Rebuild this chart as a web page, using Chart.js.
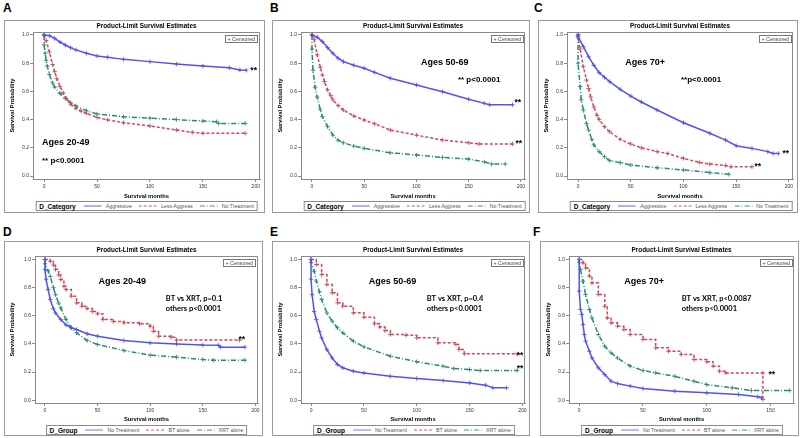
<!DOCTYPE html>
<html><head><meta charset="utf-8">
<script src="https://cdn.jsdelivr.net/npm/chart.js@4.4.0/dist/chart.umd.min.js"></script>
<style>
html,body{margin:0;padding:0;background:#fff;}
body{width:800px;height:438px;overflow:hidden;position:relative;font-family:"Liberation Sans",Arial,sans-serif;}
.letter{position:absolute;font:bold 12px/12px "Liberation Sans",Arial,sans-serif;color:#000;}
.box{position:absolute;border:1px solid #9a9a9a;box-sizing:border-box;}
canvas{position:absolute;}
.legend{position:absolute;border:1px solid #8a8a8a;box-sizing:border-box;height:10px;display:flex;align-items:center;white-space:nowrap;font-size:5.3px;color:#555;padding:0 3px 0 3px;transform:translateX(-50%);background:#fff;}
.legend b{color:#000;font-size:6.5px;margin-right:8px;font-weight:bold;}
.legend svg{margin-right:4px;opacity:0.6;flex:none;}
.legend span{margin-right:7px;}
.legend span:last-child{margin-right:0;}
</style></head><body>
<script>
// ---------- data: [survival months, survival probability] ----------
const xTicks200 = [0, 50, 100, 150, 200];
const xTicks150 = [0, 50, 100, 150];
const yTicks = [0, 0.2, 0.4, 0.6, 0.8, 1.0];
const categoryNames = ['Aggressive', 'Less Aggress', 'No Treatment'];
const groupNames = ['No Treatment', 'BT alone', 'XRT alone'];

const aAggressive = [[0,1],[5,0.995],[10,0.976],[15,0.95],[20,0.929],[25,0.91],[30,0.894],[40,0.87],[50,0.851],[60,0.842],[75,0.827],[100,0.811],[125,0.794],[150,0.78],[175,0.768],[185,0.752],[191,0.75]];
const aLessAggress = [[0,1],[2,0.96],[5,0.88],[8,0.79],[10,0.74],[12,0.69],[15,0.634],[18,0.59],[21,0.55],[25,0.51],[30,0.48],[35,0.46],[40,0.444],[50,0.416],[60,0.398],[75,0.378],[100,0.355],[125,0.326],[140,0.31],[150,0.303],[190,0.303]];
const aNoTreatment = [[0,1],[0,0.93],[1,0.87],[2,0.82],[3,0.78],[5,0.72],[8,0.66],[10,0.63],[15,0.586],[20,0.55],[25,0.52],[30,0.497],[40,0.463],[50,0.44],[75,0.42],[100,0.41],[125,0.4],[150,0.39],[163,0.385],[165,0.373],[190,0.373]];

const bAggressive = [[0,1],[5,0.985],[10,0.953],[15,0.91],[20,0.87],[25,0.835],[30,0.811],[40,0.785],[50,0.764],[60,0.735],[75,0.693],[100,0.645],[125,0.598],[150,0.544],[165,0.515],[170,0.505],[192,0.505]];
const bLessAggress = [[0,1],[2,0.97],[5,0.86],[8,0.77],[10,0.716],[12,0.67],[15,0.61],[18,0.57],[20,0.54],[25,0.5],[30,0.468],[40,0.426],[50,0.397],[60,0.37],[75,0.326],[100,0.29],[125,0.255],[150,0.236],[160,0.227],[192,0.227]];
const bNoTreatment = [[0,1],[0,0.9],[1,0.75],[3,0.63],[5,0.56],[8,0.47],[10,0.42],[15,0.35],[20,0.29],[25,0.255],[30,0.236],[40,0.213],[50,0.196],[75,0.165],[100,0.149],[125,0.132],[150,0.12],[165,0.1],[172,0.085],[185,0.085]];

const cAggressive = [[0,1],[0,0.99],[5,0.917],[10,0.846],[15,0.785],[20,0.733],[25,0.7],[30,0.669],[40,0.615],[50,0.567],[60,0.525],[75,0.468],[100,0.378],[125,0.303],[140,0.255],[150,0.215],[165,0.196],[180,0.173],[185,0.16],[190,0.16]];
const cLessAggress = [[0,1],[0,0.98],[2,0.9],[5,0.775],[8,0.68],[10,0.62],[12,0.56],[15,0.49],[18,0.43],[20,0.4],[25,0.35],[30,0.314],[40,0.26],[50,0.227],[60,0.2],[75,0.173],[85,0.16],[100,0.125],[115,0.097],[125,0.085],[140,0.075],[145,0.066],[165,0.066]];
const cNoTreatment = [[0,1],[0,0.8],[2,0.634],[3,0.54],[5,0.468],[8,0.373],[10,0.326],[13,0.26],[15,0.22],[20,0.173],[25,0.137],[30,0.109],[40,0.095],[50,0.078],[75,0.059],[100,0.043],[125,0.024],[143,0.012]];

const dNoTreatment = [[0,1],[0,0.93],[1,0.86],[3,0.787],[5,0.716],[8,0.65],[10,0.62],[15,0.573],[20,0.535],[25,0.515],[30,0.502],[40,0.472],[50,0.455],[75,0.424],[100,0.408],[125,0.4],[150,0.392],[165,0.39],[167,0.377],[190,0.377]];
const dBTalone = [[0,1],[5,0.988],[8,0.96],[10,0.93],[13,0.89],[15,0.858],[18,0.81],[20,0.787],[25,0.739],[30,0.692],[35,0.668],[40,0.652],[45,0.63],[50,0.614],[55,0.573],[65,0.56],[75,0.55],[90,0.543],[100,0.526],[103,0.49],[108,0.455],[120,0.448],[125,0.427],[185,0.427]];
const dXRTalone = [[0,1],[0,0.97],[3,0.92],[5,0.88],[8,0.8],[10,0.75],[13,0.69],[15,0.656],[20,0.573],[25,0.514],[30,0.479],[40,0.424],[50,0.396],[75,0.353],[100,0.32],[125,0.306],[150,0.289],[160,0.284],[190,0.284]];

const eNoTreatment = [[0,1],[0,0.86],[1,0.75],[3,0.63],[5,0.573],[8,0.49],[10,0.443],[15,0.36],[20,0.3],[25,0.254],[30,0.23],[40,0.206],[50,0.194],[75,0.17],[100,0.154],[125,0.14],[150,0.123],[165,0.107],[172,0.088],[185,0.088]];
const eBTalone = [[0,1],[5,0.964],[10,0.893],[15,0.822],[20,0.763],[25,0.692],[30,0.668],[40,0.621],[50,0.59],[60,0.543],[65,0.52],[70,0.495],[75,0.467],[90,0.462],[100,0.443],[120,0.408],[137,0.396],[140,0.36],[145,0.33],[195,0.33]];
const eXRTalone = [[0,1],[0,0.98],[3,0.917],[5,0.846],[8,0.77],[10,0.716],[15,0.62],[20,0.562],[25,0.514],[30,0.479],[40,0.42],[50,0.379],[75,0.313],[100,0.273],[125,0.242],[135,0.225],[150,0.218],[160,0.211],[195,0.211]];

const fNoTreatment = [[0,1],[0,0.775],[1,0.645],[2,0.61],[3,0.538],[4,0.467],[5,0.42],[8,0.348],[10,0.3],[15,0.23],[20,0.182],[25,0.135],[30,0.118],[40,0.1],[50,0.083],[75,0.064],[100,0.052],[125,0.04],[140,0.024],[143,0.017]];
const fBTalone = [[0,1],[3,0.976],[5,0.94],[8,0.882],[10,0.834],[15,0.751],[20,0.668],[22,0.585],[25,0.55],[30,0.526],[35,0.502],[40,0.467],[50,0.431],[60,0.372],[70,0.348],[80,0.325],[90,0.289],[100,0.273],[105,0.242],[110,0.206],[115,0.194],[144,0.194],[144,0.005]];
const fXRTalone = [[0,1],[0,0.98],[1,0.93],[3,0.846],[5,0.751],[8,0.645],[10,0.585],[15,0.467],[20,0.384],[25,0.336],[30,0.3],[40,0.242],[50,0.211],[60,0.194],[75,0.17],[90,0.135],[100,0.111],[120,0.088],[135,0.069],[165,0.069]];

// ---------- styles / layout ----------
const FAM = '"Liberation Sans", Arial, sans-serif';
const COLORS = ['rgb(82,82,238)', 'rgb(206,72,86)', 'rgb(40,138,118)'];
const DASHES = [[], [3, 2], [5, 2, 1, 2]];
const FONTS = {
  big: 'bold 9px ' + FAM,
  p: 'bold 8px ' + FAM,
  star: 'bold 8.5px ' + FAM,
  cal: 'bold 7.5px Lato, "Liberation Sans", sans-serif'
};

const panels = [
  {letter:'A', lpos:[3,2], box:[4,20,261,193], plot:[33,32,260,179], xr:[-10.5,204], yr:[-0.021,1.021], xt:xTicks200, xh:21,
   group:'D_Category', names:categoryNames, series:[aAggressive,aLessAggress,aNoTreatment], stepped:[false,false,false],
   notes:[['Ages 20-49',-2,0.24,'left','big'],['** p<0.0001',-2,0.108,'left','p'],['**',198,0.759,'center','star']]},
  {letter:'B', lpos:[270,2], box:[272,20,258,193], plot:[301,32,528,179], xr:[-10.5,204], yr:[-0.021,1.021], xt:xTicks200, xh:21,
   group:'D_Category', names:categoryNames, series:[bAggressive,bLessAggress,bNoTreatment], stepped:[false,false,false],
   notes:[['Ages 50-69',127,0.806,'center','big'],['** p<0.0001',160,0.681,'center','p'],['**',197,0.534,'center','star'],['**',198,0.243,'center','star']]},
  {letter:'C', lpos:[534,2], box:[538,20,260,193], plot:[567,32,795,179], xr:[-10.5,204], yr:[-0.021,1.021], xt:xTicks200, xh:21,
   group:'D_Category', names:categoryNames, series:[cAggressive,cLessAggress,cNoTreatment], stepped:[false,false,false],
   notes:[['Ages 70+',63.7,0.806,'center','big'],['**p<0.0001',116.7,0.681,'center','p'],['**',197,0.172,'center','star'],['**',170.5,0.083,'center','star']]},
  {letter:'D', lpos:[3,226], box:[4,241,259,195], plot:[35,256,258,403], xr:[-9.5,202.5], yr:[-0.02,1.025], xt:xTicks200, xh:20,
   group:'D_Group', names:groupNames, series:[dNoTreatment,dBTalone,dXRTalone], stepped:[false,true,false],
   notes:[['Ages 20-49',73.4,0.846,'center','big'],['BT vs XRT, p=0.1',114.8,0.722,'left','cal'],['others p<0.0001',114.8,0.651,'left','cal'],['**',187,0.443,'center','star']]},
  {letter:'E', lpos:[270,226], box:[272,241,258,195], plot:[301,256,527,403], xr:[-9.5,202.5], yr:[-0.02,1.025], xt:xTicks200, xh:20,
   group:'D_Group', names:groupNames, series:[eNoTreatment,eBTalone,eXRTalone], stepped:[false,true,false],
   notes:[['Ages 50-69',77,0.846,'center','big'],['BT vs XRT, p=0.4',109.4,0.722,'left','cal'],['others p<0.0001',109.4,0.651,'left','cal'],['**',197.7,0.331,'center','star'],['**',197.7,0.237,'center','star']]},
  {letter:'F', lpos:[533,226], box:[540,241,259,195], plot:[569,256,795,403], xr:[-8,168.5], yr:[-0.02,1.025], xt:xTicks150, xh:20,
   group:'D_Group', names:groupNames, series:[fNoTreatment,fBTalone,fXRTalone], stepped:[false,true,false],
   notes:[['Ages 70+',50.9,0.846,'center','big'],['BT vs XRT, p<0.0087',80.4,0.722,'left','cal'],['others p<0.0001',80.4,0.651,'left','cal'],['**',151,0.194,'center','star']]}
];

const decor = {
  id: 'decor',
  afterDraw(chart) {
    const p = chart.config.options.plugins.decor;
    const {ctx, chartArea: a, scales: {x, y}} = chart;
    ctx.save();
    ctx.strokeStyle = '#8a8a8a'; ctx.lineWidth = 1;
    ctx.beginPath();
    ctx.moveTo(Math.round(a.left) + 0.5, Math.round(a.top) + 0.5);
    ctx.lineTo(Math.round(a.right) - 0.5, Math.round(a.top) + 0.5);
    ctx.lineTo(Math.round(a.right) - 0.5, Math.round(a.bottom) + 0.5);
    ctx.stroke();
    ctx.fillStyle = '#000';
    ctx.font = 'bold 6.4px ' + FAM;
    ctx.textAlign = 'center'; ctx.textBaseline = 'middle';
    ctx.fillText('Product-Limit Survival Estimates', (a.left + a.right) / 2, a.top - 6);
    ctx.font = '5.3px ' + FAM;
    const t = '+ Censored';
    const w = ctx.measureText(t).width + 4;
    const bx = Math.round(a.right - 3 - w) + 0.5, by = Math.round(a.top + 3) + 0.5;
    ctx.strokeStyle = '#777';
    ctx.strokeRect(bx, by, Math.round(w), 7);
    ctx.fillStyle = '#444'; ctx.textAlign = 'left';
    ctx.fillText(t, bx + 2, by + 3.8);
    ctx.fillStyle = '#000';
    p.notes.forEach(([txt, tx, sy, align, f]) => {
      ctx.font = FONTS[f];
      ctx.textAlign = align; ctx.textBaseline = 'middle';
      const dy = f === 'star' ? 2 : 0;
      ctx.fillText(txt, x.getPixelForValue(tx), y.getPixelForValue(sy) + dy);
    });
    ctx.restore();
  }
};

function svgSample(i) {
  const ns = 'http://www.w3.org/2000/svg';
  const s = document.createElementNS(ns, 'svg');
  s.setAttribute('width', '18'); s.setAttribute('height', '4');
  const l = document.createElementNS(ns, 'line');
  l.setAttribute('x1', '0'); l.setAttribute('x2', '18'); l.setAttribute('y1', '2'); l.setAttribute('y2', '2');
  l.setAttribute('stroke', COLORS[i]); l.setAttribute('stroke-width', '1.3');
  if (DASHES[i].length) l.setAttribute('stroke-dasharray', DASHES[i].join(' '));
  s.appendChild(l);
  return s;
}

panels.forEach(p => {
  const [bl, bt, bw, bh] = p.box;
  const [pl, pt, pr, pb] = p.plot;

  const lt = document.createElement('div');
  lt.className = 'letter'; lt.textContent = p.letter;
  lt.style.left = p.lpos[0] + 'px'; lt.style.top = p.lpos[1] + 'px';
  document.body.appendChild(lt);

  const bx = document.createElement('div');
  bx.className = 'box';
  Object.assign(bx.style, {left: bl + 'px', top: bt + 'px', width: bw + 'px', height: bh + 'px'});
  document.body.appendChild(bx);

  const cv = document.createElement('canvas');
  cv.width = bw; cv.height = bh;
  Object.assign(cv.style, {left: bl + 'px', top: bt + 'px', width: bw + 'px', height: bh + 'px'});
  document.body.appendChild(cv);

  const yW = pl - bl;
  const xH = p.xh;
  new Chart(cv, {
    type: 'line',
    data: {
      datasets: p.series.map((d, i) => ({
        label: p.names[i],
        data: d.map(([t, s]) => ({x: t, y: s})),
        borderColor: COLORS[i],
        borderWidth: 1.5,
        borderDash: DASHES[i],
        pointStyle: 'cross',
        pointRadius: 2.2,
        pointBorderWidth: 0.9,
        pointBorderColor: COLORS[i],
        pointBackgroundColor: COLORS[i],
        stepped: p.stepped[i] ? 'before' : false,
        tension: 0,
        fill: false
      }))
    },
    options: {
      responsive: false, animation: false, devicePixelRatio: 1,
      layout: {padding: {left: 0, top: pt - bt, right: bl + bw - pr, bottom: bt + bh - pb - xH}},
      plugins: {legend: {display: false}, tooltip: {enabled: false}, title: {display: false},
        decor: {notes: p.notes}},
      scales: {
        x: {
          type: 'linear', min: p.xr[0], max: p.xr[1],
          afterBuildTicks: s => { s.ticks = p.xt.map(v => ({value: v})); },
          afterFit: s => { s.height = xH; s.paddingLeft = 0; s.paddingRight = 0; },
          grid: {drawOnChartArea: false, tickLength: 3, color: '#8a8a8a'},
          border: {color: '#8a8a8a'},
          ticks: {font: {size: 5, family: FAM}, color: '#333', padding: 2, maxRotation: 0, callback: v => String(v)},
          title: {display: true, text: 'Survival months', font: {size: 5.8, weight: 'bold', family: FAM}, color: '#000', padding: 0}
        },
        y: {
          type: 'linear', min: p.yr[0], max: p.yr[1],
          afterBuildTicks: s => { s.ticks = yTicks.map(v => ({value: v})); },
          afterFit: s => { s.width = yW; s.paddingTop = 0; s.paddingBottom = 0; },
          grid: {drawOnChartArea: false, tickLength: 3, color: '#8a8a8a'},
          border: {color: '#8a8a8a'},
          ticks: {font: {size: 5, family: FAM}, color: '#333', padding: 1, callback: v => Number(v).toFixed(1)},
          title: {display: true, text: 'Survival Probability', font: {size: 5.8, weight: 'bold', family: FAM}, color: '#000', padding: {top: 5.2, bottom: 0}}
        }
      }
    },
    plugins: [decor]
  });

  const lg = document.createElement('div');
  lg.className = 'legend';
  const b = document.createElement('b'); b.textContent = p.group; lg.appendChild(b);
  p.names.forEach((n, i) => {
    lg.appendChild(svgSample(i));
    const sp = document.createElement('span'); sp.textContent = n; lg.appendChild(sp);
  });
  lg.style.left = ((pl + pr) / 2) + 'px';
  lg.style.top = (pb + 22) + 'px';
  document.body.appendChild(lg);
});
</script>
</body></html>
